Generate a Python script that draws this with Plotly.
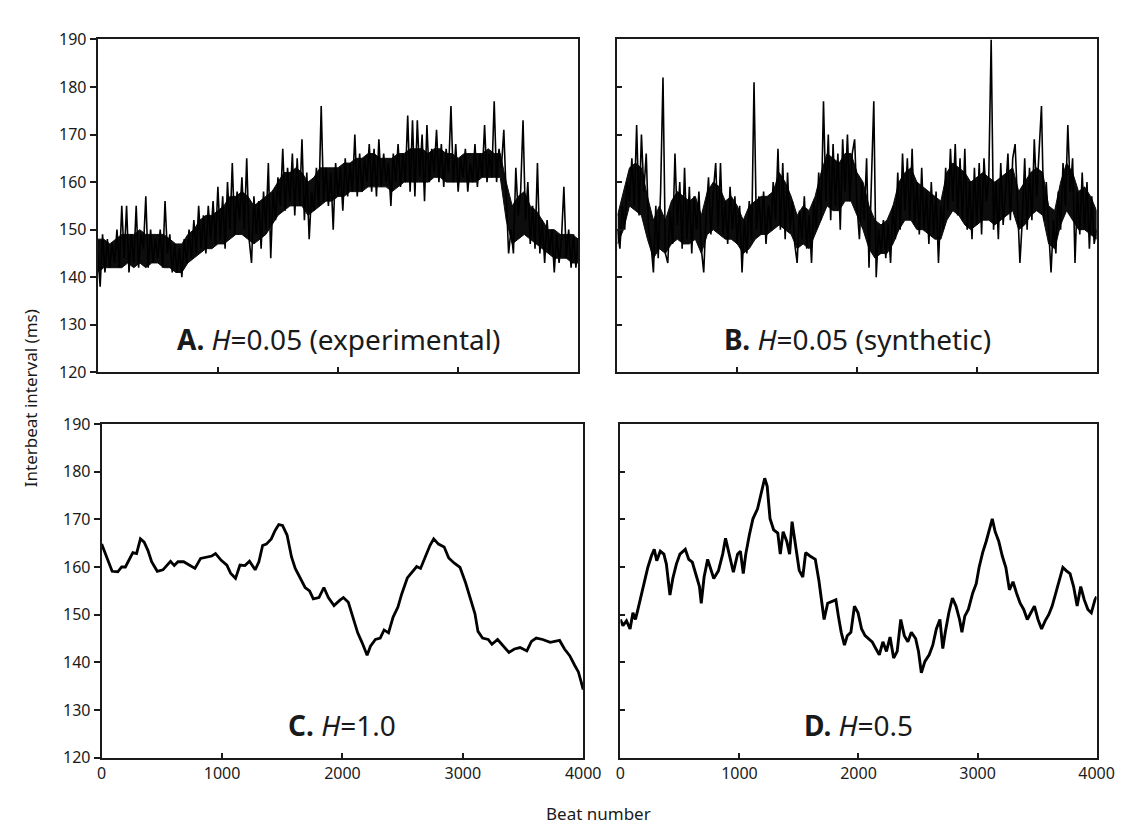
import plotly.graph_objects as go

# ---------------- data ----------------
beats_ab = list(range(0, 4001, 20))

A_vals = [
    145, 138, 149, 141, 148, 142, 147, 143, 150, 142,
    155, 144, 155, 141, 149, 143, 155, 142, 149, 146,
    157, 142, 150, 143, 148, 144, 150, 142, 156, 145,
    149, 141, 147, 141, 146, 140, 148, 143, 150, 144,
    152, 145, 155, 146, 153, 145, 155, 148, 156, 147,
    159, 148, 157, 146, 160, 150, 164, 149, 158, 152,
    161, 150, 165, 148, 143, 157, 149, 156, 146, 158,
    150, 164, 144, 158, 152, 161, 155, 167, 154, 163,
    156, 166, 153, 165, 155, 169, 152, 162, 148, 158,
    154, 163, 155, 176, 156, 163, 155, 162, 150, 164,
    157, 163, 154, 165, 157, 164, 158, 170, 157, 166,
    158, 165, 160, 168, 158, 167, 157, 169, 159, 166,
    160, 164, 155, 166, 160, 168, 159, 166, 160, 174,
    158, 173, 157, 173, 161, 170, 156, 172, 160, 167,
    162, 171, 160, 168, 159, 167, 162, 176, 160, 168,
    158, 165, 161, 167, 158, 164, 160, 168, 159, 166,
    161, 172, 160, 166, 161, 177, 160, 167, 163, 171,
    157, 145, 150, 145, 163, 153, 158, 173, 152, 160,
    147, 155, 146, 164, 145, 152, 143, 152, 145, 150,
    141, 149, 143, 148, 159, 144, 150, 142, 149, 142,
    148,
]

B_vals = [
    150, 146, 155, 150, 160, 156, 165, 155, 172, 153,
    170, 158, 166, 150, 147, 141, 155, 144, 158, 182,
    145, 143, 154, 147, 166, 151, 160, 146, 163, 148,
    159, 145, 157, 150, 158, 146, 141, 153, 161, 149,
    158, 164, 150, 164, 149, 156, 147, 159, 150, 157,
    147, 155, 141, 152, 145, 156, 148, 181, 150, 157,
    149, 158, 147, 155, 150, 160, 152, 167, 150, 164,
    148, 162, 150, 156, 147, 143, 154, 148, 157, 146,
    153, 143, 156, 150, 162, 152, 177, 156, 170, 152,
    168, 155, 166, 150, 169, 158, 170, 156, 166, 169,
    155, 148, 160, 152, 165, 142, 160, 177, 140, 150,
    145, 152, 144, 151, 143, 155, 148, 162, 150, 166,
    154, 165, 152, 167, 151, 160, 149, 163, 150, 158,
    147, 160, 149, 158, 143, 155, 150, 163, 154, 167,
    156, 168, 153, 165, 152, 167, 150, 160, 148, 163,
    151, 164, 149, 165, 156, 161, 190, 150, 160, 148,
    164, 151, 158, 166, 152, 165, 168, 155, 143, 152,
    165, 150, 163, 152, 169, 157, 166, 176, 152, 160,
    150, 141, 152, 145, 158, 150, 164, 155, 172, 158,
    165, 143, 158, 149, 162, 150, 160, 146, 157, 147,
    150,
]

# dense core band of the noisy traces (lower / upper edge, every 50 beats)
beats_band = list(range(0, 4001, 50))
A_band_lo = [141, 142, 142, 142, 142, 143, 142, 143, 142, 143,
             143, 142, 142, 141, 141, 143, 144, 145, 146, 146,
             147, 147, 148, 149, 149, 148, 147, 148, 149, 151,
             153, 154, 155, 155, 155, 153, 154, 155, 156, 156,
             157, 157, 158, 158, 158, 159, 159, 159, 159, 158,
             159, 160, 160, 160, 160, 160, 161, 161, 160, 160,
             160, 160, 160, 160, 161, 161, 161, 161, 152, 147,
             148, 149, 148, 147, 146, 145, 144, 144, 144, 143,
             143]
A_band_hi = [148, 148, 147, 148, 149, 149, 149, 150, 149, 149,
             149, 149, 148, 147, 147, 149, 150, 152, 153, 153,
             154, 155, 157, 157, 158, 157, 155, 156, 157, 158,
             160, 162, 162, 163, 162, 160, 161, 163, 163, 163,
             163, 164, 164, 165, 165, 166, 166, 165, 165, 165,
             166, 166, 167, 167, 167, 166, 167, 167, 166, 166,
             165, 166, 166, 166, 166, 167, 166, 166, 160, 155,
             157, 158, 155, 154, 152, 150, 150, 149, 149, 149,
             148]
B_band_lo = [147, 150, 155, 154, 153, 148, 144, 146, 145, 147,
             148, 147, 147, 148, 145, 149, 150, 149, 148, 148,
             147, 145, 146, 148, 149, 149, 150, 151, 150, 149,
             146, 147, 146, 149, 152, 155, 154, 154, 156, 156,
             153, 150, 146, 144, 145, 145, 147, 150, 152, 152,
             150, 150, 149, 148, 148, 152, 154, 153, 151, 150,
             151, 152, 152, 151, 152, 153, 154, 150, 151, 153,
             154, 153, 147, 146, 151, 154, 152, 150, 150, 149,
             148]
B_band_hi = [153, 158, 163, 164, 163, 157, 152, 155, 152, 156,
             158, 157, 156, 157, 153, 158, 160, 159, 156, 157,
             155, 152, 155, 156, 157, 157, 158, 162, 160, 157,
             153, 155, 154, 157, 162, 166, 165, 164, 166, 166,
             162, 160, 155, 152, 151, 152, 155, 160, 162, 163,
             160, 159, 158, 157, 156, 162, 164, 163, 162, 160,
             161, 162, 161, 160, 161, 162, 163, 158, 160, 162,
             163, 162, 155, 154, 160, 164, 162, 158, 159, 157,
             154]

C_beats = [0, 25, 56, 87, 134, 166, 197, 228, 259, 290, 322, 353, 384, 415, 462,
           509, 540, 572, 603, 634, 681, 728, 775, 822, 868, 915, 946, 993, 1040,
           1071, 1112, 1149, 1190, 1228, 1275, 1306, 1337, 1368, 1409, 1440, 1471,
           1502, 1540, 1577, 1608, 1649, 1690, 1727, 1758, 1805, 1846, 1883, 1930,
           1977, 2008, 2049, 2086, 2127, 2164, 2205, 2233, 2274, 2314, 2346, 2383,
           2421, 2461, 2492, 2539, 2580, 2617, 2649, 2689, 2727, 2758, 2798, 2845,
           2883, 2930, 2977, 3023, 3064, 3101, 3126, 3164, 3211, 3242, 3289, 3336,
           3383, 3429, 3476, 3532, 3570, 3610, 3663, 3726, 3804, 3845, 3888, 3929,
           3960, 3982, 4000]
C_vals = [164.8, 163.1, 160.8, 159.1, 159.0, 160.0, 160.0, 161.4, 163.0, 162.8, 165.9,
          165.2, 163.5, 161.1, 159.1, 159.4, 160.4, 161.2, 160.3, 161.1, 161.1, 160.4,
          159.7, 161.8, 162.1, 162.3, 162.8, 161.4, 160.4, 158.7, 157.6, 160.4, 160.3,
          161.2, 159.4, 161.1, 164.5, 164.8, 165.9, 167.6, 168.9, 168.7, 166.7, 162.1,
          159.7, 157.7, 155.7, 155.0, 153.3, 153.6, 155.7, 153.6, 151.9, 153.0, 153.6,
          152.6, 149.5, 146.2, 144.1, 141.5, 143.4, 144.8, 145.1, 146.8, 146.2, 149.5,
          151.6, 154.3, 157.7, 159.1, 160.1, 159.7, 162.1, 164.5, 165.9, 164.8, 164.2,
          161.9, 160.8, 159.9, 156.7, 153.3, 150.2, 146.5, 145.1, 144.8, 143.8, 144.8,
          143.4, 142.1, 142.8, 143.1, 142.4, 144.4, 145.1, 144.8, 144.2, 144.6, 142.8,
          141.4, 139.4, 138.0, 136.0, 134.3]

D_beats = [0, 21, 51, 81, 105, 126, 147, 171, 200, 230, 260, 284, 305, 335, 365, 386,
           416, 440, 470, 500, 545, 574, 604, 634, 664, 679, 703, 733, 763, 784, 823,
           859, 883, 913, 949, 984, 1008, 1032, 1053, 1083, 1113, 1152, 1188, 1212,
           1233, 1257, 1287, 1322, 1343, 1367, 1397, 1421, 1442, 1472, 1502, 1532,
           1556, 1592, 1637, 1667, 1691, 1711, 1741, 1780, 1810, 1831, 1855, 1882,
           1906, 1936, 1966, 1996, 2026, 2055, 2085, 2115, 2145, 2175, 2205, 2235,
           2265, 2295, 2325, 2355, 2385, 2415, 2444, 2480, 2504, 2528, 2558, 2594,
           2624, 2654, 2684, 2708, 2729, 2759, 2789, 2819, 2849, 2869, 2893, 2923,
           2959, 2989, 3013, 3043, 3073, 3103, 3124, 3148, 3178, 3208, 3238, 3268,
           3298, 3328, 3358, 3388, 3418, 3448, 3478, 3508, 3538, 3568, 3598, 3627,
           3657, 3687, 3717, 3747, 3777, 3807, 3837, 3867, 3897, 3927, 3956, 3986, 4000]
D_vals = [149.0, 147.7, 148.7, 147.0, 150.4, 149.0, 151.1, 153.8, 156.5, 159.9, 162.3,
          163.7, 161.3, 163.3, 162.7, 160.6, 154.1, 157.6, 160.6, 162.7, 163.7, 161.6,
          161.0, 158.6, 155.9, 152.4, 157.9, 161.6, 159.2, 157.6, 159.2, 162.7, 166.0,
          162.7, 158.9, 162.7, 163.3, 158.6, 162.7, 166.7, 170.1, 172.2, 175.9, 178.6,
          176.9, 170.1, 167.8, 167.1, 162.7, 167.4, 165.4, 162.7, 169.5, 164.7, 159.3,
          157.9, 163.0, 162.3, 161.6, 157.2, 152.4, 149.0, 152.4, 152.8, 153.1, 149.7,
          146.3, 143.6, 145.6, 146.3, 151.8, 150.4, 147.0, 145.6, 145.0, 144.3, 142.9,
          141.6, 144.3, 142.3, 145.3, 140.9, 142.3, 149.0, 145.6, 144.3, 146.3, 145.0,
          142.3, 137.8, 140.2, 141.6, 143.6, 147.0, 149.0, 142.9, 146.3, 150.4, 153.5,
          151.8, 149.0, 146.3, 149.7, 151.1, 154.5, 156.5, 159.9, 163.0, 165.4, 168.1,
          170.1, 167.4, 165.4, 162.3, 159.9, 155.2, 156.9, 154.5, 152.4, 151.1, 149.0,
          150.4, 151.8, 149.0, 147.0, 148.7, 150.0, 151.8, 154.5, 157.2, 159.9, 159.2,
          158.6, 155.9, 151.8, 155.9, 153.1, 151.1, 150.4, 153.1, 153.8]

x_ticks = [0, 1000, 2000, 3000, 4000]
y_ticks = [120, 130, 140, 150, 160, 170, 180, 190]

panel_labels = ["<b>A.</b> <i>H</i>=0.05 (experimental)",
                "<b>B.</b> <i>H</i>=0.05 (synthetic)",
                "<b>C.</b> <i>H</i>=1.0",
                "<b>D.</b> <i>H</i>=0.5"]

# ---------------- figure ----------------
W, H = 1134, 825
FONT = "Noto Sans"
INK = "#1a1a1a"

def px_x(a, b):
    return [a / W, b / W]

def px_y(top, bottom):
    return [(H - bottom) / H, (H - top) / H]

fig = go.Figure()

# core bands for A and B
for sfx, lo, hi in (("", A_band_lo, A_band_hi), ("2", B_band_lo, B_band_hi)):
    fig.add_trace(go.Scatter(x=beats_band + beats_band[::-1], y=hi + lo[::-1],
                             mode="lines", fill="toself", fillcolor="#0d0d0d",
                             line=dict(color="#0d0d0d", width=1),
                             xaxis="x" + sfx, yaxis="y" + sfx,
                             showlegend=False, hoverinfo="skip"))

series = [(beats_ab, A_vals, 1.6), (beats_ab, B_vals, 1.6),
          (C_beats, C_vals, 2.8), (D_beats, D_vals, 2.9)]
for i, (xs, ys, w) in enumerate(series):
    sfx = "" if i == 0 else str(i + 1)
    fig.add_trace(go.Scatter(x=xs, y=ys, mode="lines",
                             line=dict(color="black", width=w),
                             xaxis="x" + sfx, yaxis="y" + sfx,
                             showlegend=False, hoverinfo="skip"))

domains = [
    (px_x(86.5, 577), px_y(21, 363)),
    (px_x(617, 1106), px_y(21, 363)),
    (px_x(90.5, 582), px_y(416, 759)),
    (px_x(620, 1106), px_y(416, 759)),
]

layout = dict(width=W, height=H, margin=dict(l=0, r=0, t=0, b=0),
              paper_bgcolor="white", plot_bgcolor="white",
              font=dict(family=FONT, color=INK, size=16))

for i, (dx, dy) in enumerate(domains):
    sfx = "" if i == 0 else str(i + 1)
    left_col = i in (0, 2)
    bottom_row = i in (2, 3)
    layout["xaxis" + sfx] = dict(
        domain=dx, range=[0, 4000], anchor="y" + sfx,
        tickvals=x_ticks, ticktext=[str(v) for v in x_ticks],
        showticklabels=bottom_row, ticks="inside", ticklen=5,
        tickwidth=1.5, tickcolor=INK,
        showline=True, linecolor=INK, linewidth=2, mirror=True,
        showgrid=False, zeroline=False, fixedrange=True,
        tickfont=dict(size=16, family=FONT, color=INK))
    layout["yaxis" + sfx] = dict(
        domain=dy, range=[120, 190], anchor="x" + sfx,
        tickvals=y_ticks, ticktext=[str(v) for v in y_ticks],
        showticklabels=left_col, ticks="outside" if left_col else "inside",
        ticklen=6 if left_col else 5, tickwidth=1.5, tickcolor=INK,
        showline=True, linecolor=INK, linewidth=2, mirror=True,
        showgrid=False, zeroline=False, fixedrange=True,
        tickfont=dict(size=16, family=FONT, color=INK))

fig.update_layout(**layout)

label_pos = [(332, 329), (862, 329), (336, 725), (863, 725)]
for txt, (lx, ly) in zip(panel_labels, label_pos):
    fig.add_annotation(text=txt, x=lx / W, y=(H - ly) / H, xref="paper", yref="paper",
                       showarrow=False, xanchor="center", yanchor="middle",
                       font=dict(size=28, family=FONT, color=INK))

fig.add_annotation(text="Interbeat interval (ms)", x=18 / W, y=(H - 390) / H,
                   xref="paper", yref="paper", showarrow=False, textangle=-90,
                   xanchor="center", yanchor="middle",
                   font=dict(size=17, family=FONT, color=INK))
fig.add_annotation(text="Beat number", x=598 / W, y=(H - 816) / H,
                   xref="paper", yref="paper", showarrow=False,
                   xanchor="center", yanchor="middle",
                   font=dict(size=17, family=FONT, color=INK))

fig.write_html("out.html")
